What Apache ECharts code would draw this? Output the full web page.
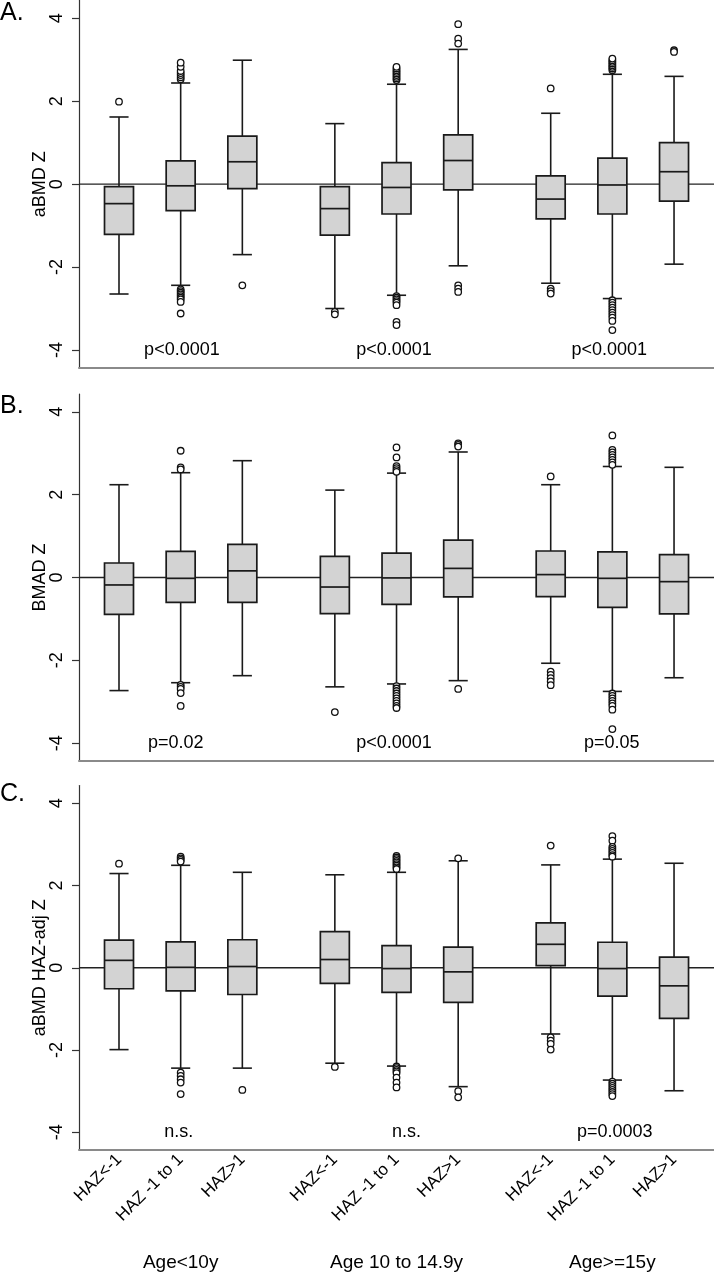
<!DOCTYPE html>
<html><head><meta charset="utf-8">
<script src="https://cdn.jsdelivr.net/npm/echarts@6/dist/echarts.min.js"></script>
<style>html,body{margin:0;padding:0;background:#fff}#c{width:714px;height:1272px}</style>
</head><body><div id="c"></div>
<script>
// ---- data ----
const positions = [1, 2, 3, 4.5, 5.5, 6.5, 8, 9, 10];
const boxLabels = ['HAZ<-1', 'HAZ -1 to 1', 'HAZ>1', 'HAZ<-1', 'HAZ -1 to 1', 'HAZ>1', 'HAZ<-1', 'HAZ -1 to 1', 'HAZ>1'];
const groupLabels = ['Age<10y', 'Age 10 to 14.9y', 'Age>=15y'];
const groupPositions = [2, 5.5, 9];
const panelLetters = ['A.', 'B.', 'C.'];
const yTitles = ['aBMD Z', 'BMAD Z', 'aBMD HAZ-adj Z'];
const yTicks = [-4, -2, 0, 2, 4];
const pTextA = ['p<0.0001', 'p<0.0001', 'p<0.0001'];
const pTextB = ['p=0.02', 'p<0.0001', 'p=0.05'];
const pTextC = ['n.s.', 'n.s.', 'p=0.0003'];
const pPosA = [2.02, 5.46, 8.95];
const pPosB = [1.92, 5.46, 8.99];
const pPosC = [1.97, 5.66, 9.04];
// [lower whisker, Q1, median, Q3, upper whisker]
const boxA = [
  [-2.65, -1.21, -0.47, -0.06, 1.62],
  [-2.44, -0.64, -0.04, 0.56, 2.44],
  [-1.70, -0.11, 0.54, 1.16, 2.99],
  [-3.00, -1.23, -0.59, -0.06, 1.46],
  [-2.68, -0.72, -0.08, 0.52, 2.41],
  [-1.97, -0.14, 0.57, 1.19, 3.25],
  [-2.39, -0.84, -0.36, 0.20, 1.71],
  [-2.76, -0.72, -0.02, 0.63, 2.65],
  [-1.93, -0.41, 0.30, 1.00, 2.60]
];
const outA = [
  [1.99],
  [2.53, 2.58, 2.63, 2.68, 2.73, 2.83, 2.93, -2.54, -2.58, -2.62, -2.66, -2.70, -2.74, -2.78, -2.84, -3.12],
  [-2.44],
  [-3.08, -3.14],
  [2.51, 2.55, 2.59, 2.63, 2.67, 2.71, 2.75, 2.79, 2.83, -2.70, -2.74, -2.78, -2.82, -2.86, -2.92, -3.32, -3.40],
  [3.86, 3.51, 3.39, -2.44, -2.52, -2.60],
  [2.31, -2.52, -2.58, -2.64],
  [2.75, 2.79, 2.83, 2.87, 2.91, 2.95, 2.99, 3.03, -2.80, -2.86, -2.92, -2.98, -3.04, -3.10, -3.16, -3.22, -3.30, -3.52],
  [3.23, 3.19]
];
const boxB = [
  [-2.73, -0.89, -0.18, 0.35, 2.24],
  [-2.54, -0.60, -0.02, 0.63, 2.53],
  [-2.37, -0.60, 0.16, 0.80, 2.82],
  [-2.64, -0.87, -0.23, 0.51, 2.11],
  [-2.57, -0.65, -0.01, 0.59, 2.52],
  [-2.49, -0.47, 0.22, 0.90, 3.03],
  [-2.07, -0.46, 0.07, 0.64, 2.24],
  [-2.75, -0.72, -0.02, 0.62, 2.68],
  [-2.42, -0.88, -0.10, 0.55, 2.66]
];
const outB = [
  [],
  [3.06, 2.66, 2.61, -2.59, -2.64, -2.69, -2.79, -3.10],
  [],
  [-3.25],
  [3.14, 2.90, 2.69, 2.64, 2.59, 2.55, -2.62, -2.68, -2.74, -2.80, -2.86, -2.92, -2.98, -3.04, -3.10, -3.15],
  [3.24, 3.20, 3.16, -2.69],
  [2.44, -2.27, -2.35, -2.43, -2.51, -2.60],
  [3.43, 3.08, 3.02, 2.96, 2.90, 2.84, 2.78, 2.72, -2.80, -2.86, -2.92, -2.98, -3.04, -3.10, -3.19, -3.66],
  []
];
const boxC = [
  [-1.99, -0.51, 0.18, 0.67, 2.29],
  [-2.44, -0.56, 0.01, 0.63, 2.49],
  [-2.44, -0.65, 0.03, 0.68, 2.32],
  [-2.32, -0.38, 0.20, 0.88, 2.26],
  [-2.39, -0.60, -0.02, 0.54, 2.32],
  [-2.89, -0.84, -0.10, 0.50, 2.60],
  [-1.61, 0.05, 0.57, 1.09, 2.50],
  [-2.73, -0.69, -0.02, 0.62, 2.64],
  [-2.99, -1.23, -0.44, 0.26, 2.54]
];
const outC = [
  [2.53],
  [2.70, 2.66, 2.62, 2.58, -2.55, -2.63, -2.71, -2.79, -3.07],
  [-2.97],
  [-2.41],
  [2.72, 2.68, 2.64, 2.60, 2.56, 2.52, 2.48, 2.44, 2.40, -2.40, -2.44, -2.48, -2.52, -2.56, -2.67, -2.79, -2.91],
  [2.66, -3.00, -3.15],
  [2.97, -1.69, -1.77, -1.85, -1.99],
  [3.20, 3.09, 2.94, 2.89, 2.84, 2.79, 2.74, 2.70, -2.77, -2.82, -2.87, -2.92, -2.97, -3.02, -3.07, -3.12],
  []
];

// ---- layout ----
const X_MIN = 0.3514, X_MAX = 10.648, Y_MIN = -4.43, Y_MAX = 4.43;
const grids = [
  { left: 79, top: 0.5, width: 635, height: 367.3 },
  { left: 79, top: 394, width: 635, height: 367 },
  { left: 79, top: 785.5, width: 635, height: 367.5 }
];
const letterTops = [1, 394, 782];
const FONT = '"Liberation Sans", Arial, Helvetica, sans-serif';
const TXT = '#000';
const panels = [
  { box: boxA, out: outA, p: pTextA, pp: pPosA },
  { box: boxB, out: outB, p: pTextB, pp: pPosB },
  { box: boxC, out: outC, p: pTextC, pp: pPosC }
];

const xAxes = [], yAxes = [], series = [], graphics = [];
panels.forEach((pn, i) => {
  xAxes.push({
    type: 'value', gridIndex: i, min: X_MIN, max: X_MAX, position: 'bottom',
    axisLine: { show: true, onZero: false, lineStyle: { color: '#8a8a8a', width: 2 } },
    axisTick: { show: false },
    splitLine: { show: false },
    axisLabel: i === 2 ? {
      show: true, rotate: 45, margin: 7, fontSize: 17, color: TXT, fontFamily: FONT,
      customValues: positions,
      formatter: v => { const k = positions.findIndex(p => Math.abs(p - v) < 1e-6); return k >= 0 ? boxLabels[k] : ''; }
    } : { show: false }
  });
  yAxes.push({
    type: 'value', gridIndex: i, min: Y_MIN, max: Y_MAX,
    name: yTitles[i], nameLocation: 'middle', nameGap: 30, nameMoveOverlap: false,
    nameTextStyle: { fontSize: 18, color: TXT, fontFamily: FONT },
    axisLine: { show: true, onZero: false, lineStyle: { color: '#333', width: 1.2 } },
    axisTick: { show: true, length: 7, customValues: yTicks, lineStyle: { color: '#333', width: 1.2 } },
    splitLine: { show: false },
    axisLabel: { show: true, rotate: 90, margin: 13, fontSize: 18, color: TXT, fontFamily: FONT, customValues: yTicks }
  });
  // zero reference line
  series.push({
    type: 'line', xAxisIndex: i, yAxisIndex: i, data: [[X_MIN, 0], [X_MAX, 0]],
    showSymbol: false, silent: true, lineStyle: { color: '#222', width: 1.4 }, z: 1
  });
  // boxes
  series.push({
    type: 'custom', xAxisIndex: i, yAxisIndex: i, z: 3,
    data: pn.box.map((b, k) => [positions[k]].concat(b)),
    encode: { x: 0, y: [1, 2, 3, 4, 5] },
    renderItem: (params, api) => {
      const x = api.value(0);
      const lo = api.coord([x, api.value(1)]), q1 = api.coord([x, api.value(2)]),
            md = api.coord([x, api.value(3)]), q3 = api.coord([x, api.value(4)]),
            hi = api.coord([x, api.value(5)]);
      const bw = api.size([0.47, 0])[0], cw = api.size([0.31, 0])[0];
      const cx = lo[0];
      const ls = { stroke: '#1a1a1a', lineWidth: 1.6 };
      return {
        type: 'group', children: [
          { type: 'line', shape: { x1: cx, y1: q3[1], x2: cx, y2: hi[1] }, style: ls },
          { type: 'line', shape: { x1: cx, y1: q1[1], x2: cx, y2: lo[1] }, style: ls },
          { type: 'line', shape: { x1: cx - cw / 2, y1: hi[1], x2: cx + cw / 2, y2: hi[1] }, style: ls },
          { type: 'line', shape: { x1: cx - cw / 2, y1: lo[1], x2: cx + cw / 2, y2: lo[1] }, style: ls },
          { type: 'rect', shape: { x: cx - bw / 2, y: q3[1], width: bw, height: q1[1] - q3[1] },
            style: { fill: '#d3d3d3', stroke: '#1a1a1a', lineWidth: 1.7 } },
          { type: 'line', shape: { x1: cx - bw / 2, y1: md[1], x2: cx + bw / 2, y2: md[1] }, style: { stroke: '#1a1a1a', lineWidth: 1.7 } }
        ]
      };
    }
  });
  // outliers
  const od = [];
  pn.out.forEach((arr, k) => arr.forEach(v => od.push([positions[k], v])));
  series.push({
    type: 'scatter', xAxisIndex: i, yAxisIndex: i, z: 4, data: od,
    symbol: 'circle', symbolSize: 6.5, silent: true,
    itemStyle: { color: '#fff', borderColor: '#111', borderWidth: 1.3, opacity: 1 }
  });
  // p-value annotations
  series.push({
    type: 'scatter', xAxisIndex: i, yAxisIndex: i, z: 5, symbolSize: 0, silent: true,
    itemStyle: { opacity: 1 },
    data: pn.pp.map((x, k) => ({ value: [x, -4], name: pn.p[k] })),
    label: { show: true, position: 'inside', formatter: d => d.name, fontSize: 18, color: TXT,
      textBorderWidth: 0, opacity: 1, fontFamily: FONT }
  });
  graphics.push({
    type: 'text', left: 0, top: letterTops[i],
    style: { text: panelLetters[i], fontSize: 25, fill: TXT, fontFamily: FONT }
  });
});
// group labels axis under panel C
xAxes.push({
  type: 'value', gridIndex: 2, min: X_MIN, max: X_MAX, position: 'bottom', offset: 103,
  axisLine: { show: false }, axisTick: { show: false }, splitLine: { show: false },
  axisLabel: {
    show: true, margin: 0, fontSize: 19, color: TXT, fontFamily: FONT,
    customValues: groupPositions,
    formatter: v => { const k = groupPositions.findIndex(p => Math.abs(p - v) < 1e-6); return k >= 0 ? groupLabels[k] : ''; }
  }
});

const chart = echarts.init(document.getElementById('c'), null, { renderer: 'canvas' });
chart.setOption({
  animation: false,
  backgroundColor: '#fff',
  grid: grids,
  xAxis: xAxes,
  yAxis: yAxes,
  series: series,
  graphic: graphics
});
</script></body></html>
